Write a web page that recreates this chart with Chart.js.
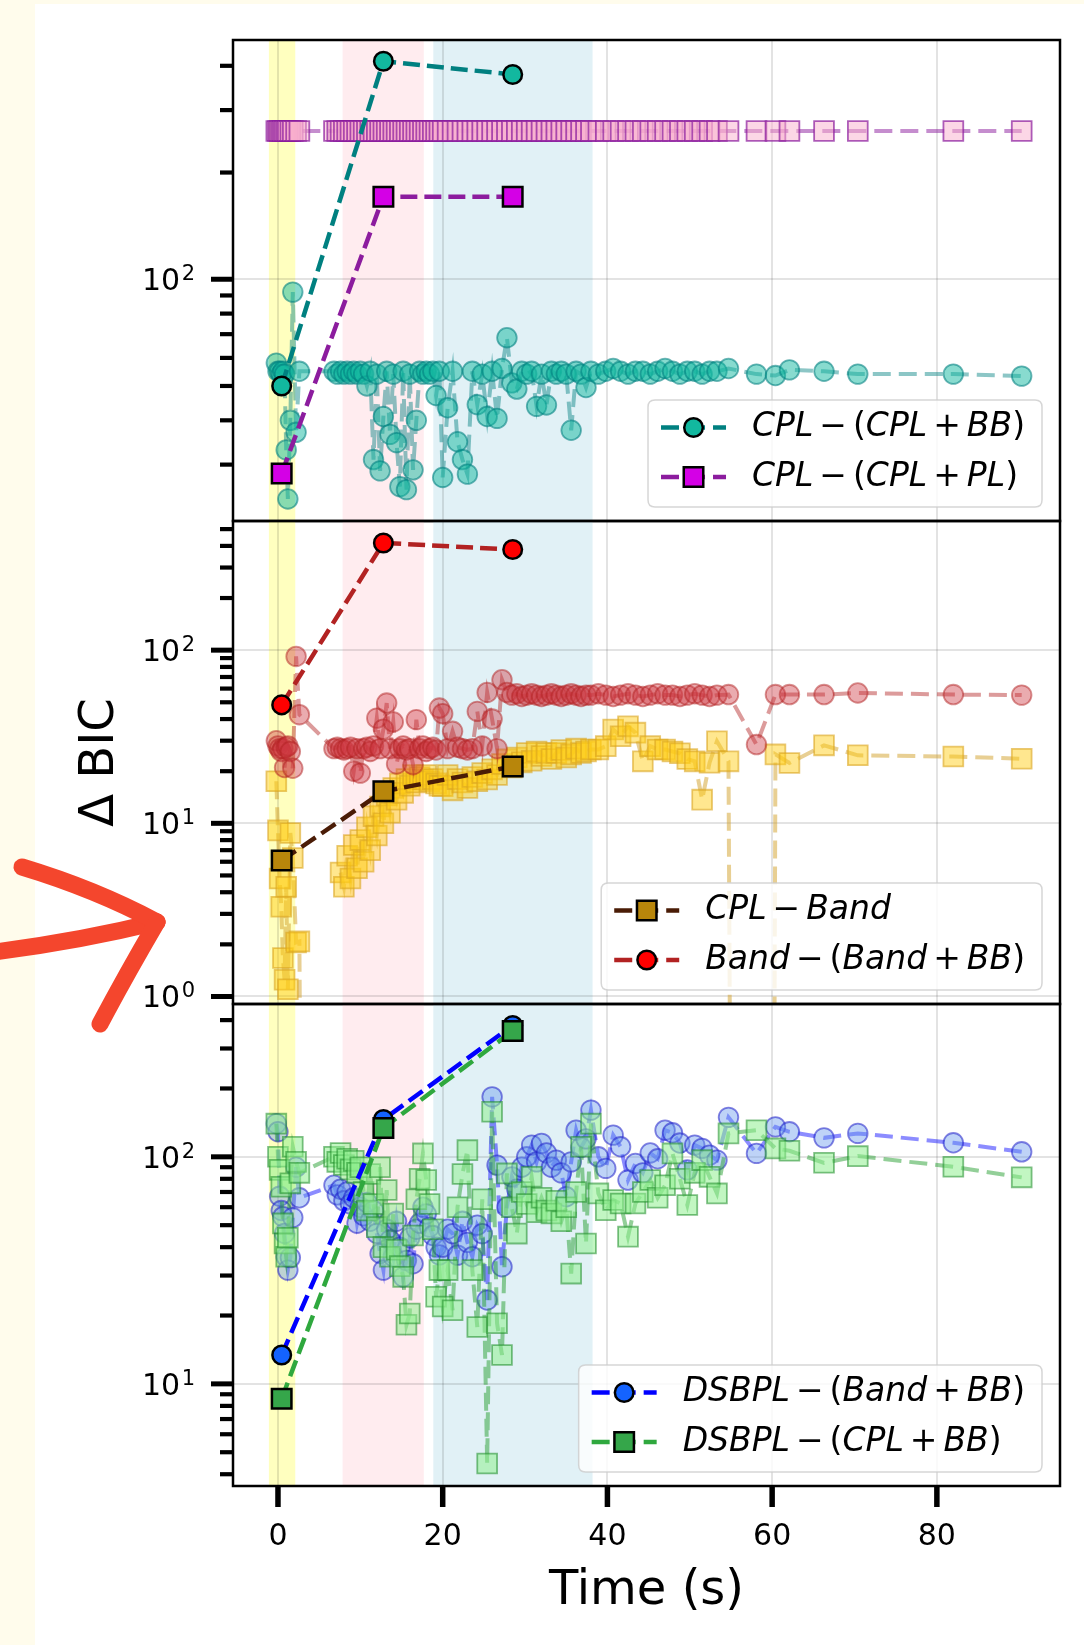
<!DOCTYPE html>
<html lang="en">
<head>
<meta charset="utf-8">
<title>Δ BIC vs time</title>
<script src="https://cdn.jsdelivr.net/npm/chart.js@4.4.1/dist/chart.umd.min.js"></script>
<style>
  html, body { margin: 0; padding: 0; background: #ffffff; }
  #page { position: relative; width: 1084px; height: 1645px; overflow: hidden; background: #ffffff; }
  .edge { position: absolute; background: #fffcec; }
  canvas, svg { position: absolute; left: 0; top: 0; }
</style>
</head>
<body>
<div id="page">
  <div class="edge" style="left:0;top:0;width:35px;height:1645px"></div>
  <div class="edge" style="left:0;top:0;width:1084px;height:4px"></div>
  <canvas id="panelTop" width="1084" height="1645"></canvas>
  <canvas id="panelMid" width="1084" height="1645"></canvas>
  <canvas id="panelBot" width="1084" height="1645"></canvas>
  <svg width="1084" height="1645" viewBox="0 0 1084 1645">
    <g fill="none" stroke="#f4462d" stroke-width="17" stroke-linecap="round" stroke-linejoin="round">
      <path d="M -6 952 Q 80 941 157 922"/>
      <path d="M 22 867 Q 95 889 157 922"/>
      <path d="M 157 922 Q 126 975 100 1024"/>
    </g>
  </svg>
</div>
<script>
const FONT = '"DejaVu Sans", "Liberation Sans", sans-serif';
Chart.defaults.font.family = FONT;
Chart.defaults.color = '#000';

// ---- time-resolved bins (s) ----
const timeBins = [
  -0.2, 0.0, 0.2, 0.4, 0.6, 0.8, 1.0, 1.2, 1.5, 1.8, 2.2, 2.6,
  6.8, 7.2, 7.6, 8.0, 8.4, 8.8, 9.2, 9.6, 10.0, 10.4, 10.8, 11.2, 11.6, 12.0, 12.4, 12.8, 13.2, 13.6, 14.0, 14.4, 14.8, 15.2, 15.6, 16.0, 16.4, 16.8, 17.2, 17.6, 18.0, 18.4, 18.8, 19.2, 19.6,
  20.0, 20.6, 21.2, 21.8, 22.4, 23.0, 23.6, 24.2, 24.8, 25.4, 26.0, 26.6, 27.2, 27.8, 28.4, 29.0, 29.6, 30.2, 30.8, 31.4, 32.0, 32.6, 33.2, 33.8, 34.4, 35.0, 35.6, 36.2, 36.8, 37.4,
  38.0, 38.9, 39.8, 40.7, 41.6, 42.5, 43.4, 44.3, 45.2, 46.1, 47.0, 47.9, 48.8, 49.7, 50.6, 51.5, 52.4, 53.3, 54.7,
  58.1, 60.4, 62.1, 66.3, 70.4, 82.0, 90.3
];

// Δ BIC per bin: CPL − (CPL + BB)
const binsCplVsCplBB = [
  58, 55, 55, 54, 55, 54, 33, 24, 40, 92, 37, 55,
  55, 54, 55, 54, 55, 54, 55, 54, 55, 54, 50, 55, 31, 54, 28.8, 41, 55, 36.5, 54, 34.6, 26, 55, 25.5, 54, 29, 40, 55, 54, 55, 54, 55, 47, 55,
  27.6, 43.4, 55, 34.8, 31, 28.2, 55, 44.3, 54, 41, 55, 40.5, 56, 68.4, 51, 49, 55, 54, 55, 43.8, 54, 44.2, 55, 54, 55, 54, 37.5, 55, 54, 49.5,
  55, 54, 55, 56, 55, 54, 55, 55, 54, 55, 56, 55, 54, 55, 55, 54, 55, 55, 56,
  54, 53.5, 55.5, 55, 54, 54, 53.3
];
// Δ BIC per bin: CPL − (CPL + PL)
const binsCplVsCplPL = [
  262, 262, 262, 262, 262, 262, 262, 262, 262, 262, 262, 262,
  262, 262, 262, 262, 262, 262, 262, 262, 262, 262, 262, 262, 262, 262, 262, 262, 262, 262, 262, 262, 262, 262, 262, 262, 262, 262, 262, 262, 262, 262, 262, 262, 262,
  262, 262, 262, 262, 262, 262, 262, 262, 262, 262, 262, 262, 262, 262, 262, 262, 262, 262, 262, 262, 262, 262, 262, 262, 262, 262, 262, 262, 262, 262,
  262, 262, 262, 262, 262, 262, 262, 262, 262, 262, 262, 262, 262, 262, 262, 262, 262, 262, 262,
  262, 262, 262, 262, 262, 262, 262
];
// Δ BIC per bin: Band − (Band + BB)
const binsBandVsBandBB = [
  30, 28, 27, 26, 27, 21, 27.5, 28, 26, 20.8, 92, 42.4,
  27, 27.5, 27, 26.5, 27, 27.5, 20, 27, 19.5, 27, 27.5, 26, 28, 40.5, 27, 35, 49.5, 27, 38.5, 22, 27, 28, 26.5, 27, 21.8, 39.7, 27, 28, 26, 27, 27.5, 26.5, 46.3,
  43, 27, 34, 27.5, 27, 26.5, 27, 44.3, 28, 57, 40, 27, 67.5, 57, 55, 56, 54, 55, 56, 55, 54, 55, 56, 55, 54, 55, 56, 55, 54, 55,
  55, 56, 55, 54, 55, 56, 55, 54, 55, 56, 55, 55, 54, 55, 56, 55, 54, 55, 55.4,
  28.5, 55.4, 55.4, 55.4, 56.6, 55.4, 55
];
// Δ BIC per bin: CPL − Band (negative values fall off the log axis; null = no fit)
const binsCplVsBand = [
  17.5, 9.1, 4.8, 3.3, 1.67, 1.25, 4.3, 1.1, 8.8, 6.3, 2.05, 2.08,
  -5, null, 5.2, 4.3, 6.5, 4.8, 7.5, 5.5, 8.0, 6.0, 9.5, 7.0, 11.0, 8.5, 12.5, 10.0, 14.5, 11.5, 16, 13.7, 17, 15, 18, 16.5, 19, 17.2, 18.5, 17.9, 19, 17.5, 18, 17, 16.5,
  16.4, 19, 15.5, 18, 17.2, 16, 18.5, 17.5, 19.5, 17.9, 20.5, 19, 22, 23.4, 21, 24, 22.5, 25.5, 23, 26, 24.5, 25.5, 23.5, 25.5, 26.5, 24, 25, 27, 25.5, 26,
  26.7, 26.7, 27.9, 34.8, 31.8, 36.3, 33.4, 22.8, 27.9, 26.7, 26.7, 26.0, 25.4, 23.5, 22.8, 13.7, 22.4, 29.8, 22.8,
  -5, 25.0, 22.3, 28.2, 24.7, 24.3, 23.6
];
// Δ BIC per bin: DSBPL − (Band + BB)
const binsDsbplVsBandBB = [
  140, 129, 67, 58, 54.5, 46, 36.3, 31.7, 36, 54, 90, 66,
  75, 68, 72, 64, 70, 62, 66, 51, 60, 55, 63, 52, 58, 46, 37.5, 31.7, 48, 43, 36.3, 52, 40, 29.6, 35, 44, 33.8, 48, 51, 60, 56, 49, 45, 40, 37,
  40, 48, 45.9, 36.9, 52, 42, 36.3, 50, 45.9, 23.4, 183.7, 91.9, 32.8, 60, 81.6, 72, 90, 100, 112.6, 95, 114.6, 104, 90, 96.7, 85, 66.7, 95, 131, 110, 120,
  160.6, 100, 88.9, 124.6, 110.7, 79, 93.5, 85, 104, 98, 131, 127.6, 115, 87.6, 112.6, 108.9, 101.7, 96.7, 149.2,
  103.5, 135.5, 128.9, 121.2, 126.8, 115.3, 105.2
];
// Δ BIC per bin: DSBPL − (CPL + BB)
const binsDsbplVsCplBB = [
  140, 100, 87.6, 73.8, 50.9, 41.5, 36.3, 44, 76.4, 110.7, 95, 85,
  100, 95, 104, 92, 98, 88, 96, 85, 90, 70, 58, 84, 62, 49, 90, 40, 71.4, 36.3, 56.3, 39, 33, 29.6, 18.2, 20.4, 45, 65, 80, 103.5, 79, 62, 48, 24.2, 31.7,
  21.9, 31.7, 21.1, 60, 84, 107, 31.7, 17.8, 65, 4.46, 157.9, 18.5, 13.4, 84.5, 60, 45.9, 70, 62, 81.6, 57, 66, 58, 56.3, 64, 52, 60, 30.6, 70, 110.7, 41.5,
  140, 69, 58.2, 64.5, 62.3, 44.5, 62.3, 70, 79, 66, 75, 103.5, 80, 61.3, 85, 96.7, 81.6, 69, 126.8,
  131, 108.9, 106.3, 94.1, 100.7, 90.4, 81.2
];

// ---- pulse-integrated intervals ----
const intervalTimes = [0.45, 12.8, 28.5];
const intCplVsCplBB = [50, 412, 378];
const intCplVsCplPL = [28.3, 171, 171];
const intCplVsBand = [6.1, 15.3, 21.3];
const intBandVsBandBB = [48.3, 416, 381];
const intDsbplVsBandBB = [13.4, 146, 379];
const intDsbplVsCplBB = [8.6, 134, 358];

// shaded emission episodes (s)
const episodeStart = [-1.1, 7.85, 18.86];
const episodeEnd = [2.1, 17.7, 38.2];

// axis ticks
const xTickValues = [0, 20, 40, 60, 80];
const yTicksTop = [30, 40, 50, 60, 70, 80, 90, 100, 200, 300, 400];
const yTicksMid = [1, 2, 3, 4, 5, 6, 7, 8, 9, 10, 20, 30, 40, 50, 60, 70, 80, 90, 100, 200, 300, 400, 500];
const yTicksBot = [4, 5, 6, 7, 8, 9, 10, 20, 30, 40, 50, 60, 70, 80, 90, 100, 200, 300, 400];
// decade tick labels as [base, exponent]
const decadeLabels = { 1: ['10', '0'], 10: ['10', '1'], 100: ['10', '2'] };

// ---- layout & styling ----
const PAGE_W = 1084, PAGE_H = 1645;
const AREA_LEFT = 233, AREA_RIGHT = 1060;
const X_MIN = -5.46, X_MAX = 94.95;
const GRID = 'rgba(0,0,0,0.11)';
const episodeColors = ['rgba(255,255,0,0.25)', 'rgba(255,192,203,0.30)', 'rgba(173,216,230,0.36)'];
const CLIP_FLOOR = 1e-30; // stands in for non-positive Δ BIC on the log axis

const styles = {
  teal:    { line: '#008080', face: '#12b89f', fLine: 'rgba(0,128,128,0.45)', fFace: 'rgba(18,184,159,0.50)', fEdge: 'rgba(0,128,128,0.58)', shape: 'circle' },
  magenta: { line: '#8c1c9e', face: '#d400e6', fLine: 'rgba(140,28,158,0.50)', fFace: 'rgba(250,175,205,0.50)', fEdge: 'rgba(140,28,158,0.70)', shape: 'rect' },
  red:     { line: '#b22222', face: '#ff0000', fLine: 'rgba(178,34,34,0.45)', fFace: 'rgba(205,55,65,0.42)', fEdge: 'rgba(178,34,34,0.50)', shape: 'circle' },
  gold:    { line: '#4a1c06', face: '#b8860b', fLine: 'rgba(210,160,40,0.50)', fFace: 'rgba(255,205,20,0.48)', fEdge: 'rgba(218,165,32,0.60)', shape: 'rect' },
  blue:    { line: '#0000ff', face: '#1463ff', fLine: 'rgba(0,0,255,0.45)', fFace: 'rgba(100,149,237,0.42)', fEdge: 'rgba(30,30,200,0.55)', shape: 'circle' },
  green:   { line: '#2fa83e', face: '#35a64a', fLine: 'rgba(40,160,50,0.50)', fFace: 'rgba(144,238,144,0.55)', fEdge: 'rgba(30,140,40,0.55)', shape: 'rect' }
};
const radius = { circle: 9.3, rect: 13.8 };
const fadedRadius = { circle: 9.8, rect: 14 };

function toPoints(times, vals) {
  return times.map((t, i) => ({ x: t, y: vals[i] === null ? null : (vals[i] > 0 ? vals[i] : CLIP_FLOOR) }));
}

function binSeries(label, vals, st, order) {
  return {
    label, data: toPoints(timeBins, vals), order,
    borderColor: st.fLine, borderWidth: 4, borderDash: [18, 8], tension: 0, fill: false, spanGaps: false,
    pointStyle: st.shape, pointRadius: fadedRadius[st.shape], pointHoverRadius: fadedRadius[st.shape],
    pointBackgroundColor: st.fFace, pointBorderColor: st.fEdge, pointBorderWidth: 1.8
  };
}
function intervalSeries(label, vals, st, order) {
  return {
    label, data: toPoints(intervalTimes, vals), order,
    borderColor: st.line, borderWidth: 4.5, borderDash: [17, 7], tension: 0, fill: false,
    pointStyle: st.shape, pointRadius: radius[st.shape], pointHoverRadius: radius[st.shape],
    pointBackgroundColor: st.face, pointBorderColor: '#000', pointBorderWidth: 2.5
  };
}

// mathtext-like label: letters italic, brackets/operators upright, spaced binary operators
const LEGEND_PX = 33;
const OP_GAP = 6;
function mathRuns(label) {
  const out = [];
  for (const m of label.match(/[A-Za-z]+|[^A-Za-z]/g)) {
    if (m === ' ') continue;
    if (/[A-Za-z]/.test(m)) out.push({ s: m, it: true, gap: 0 });
    else out.push({ s: m, it: false, gap: (m === '−' || m === '+') ? OP_GAP : 0 });
  }
  return out;
}
function runFont(it) { return (it ? 'italic ' : '') + LEGEND_PX + 'px ' + FONT; }
function measureMath(ctx, label) {
  return mathRuns(label).reduce((w, r) => { ctx.font = runFont(r.it); return w + ctx.measureText(r.s).width + 2 * r.gap; }, 0);
}
function drawMath(ctx, label, x, y) {
  ctx.textBaseline = 'middle'; ctx.textAlign = 'left'; ctx.fillStyle = '#000';
  mathRuns(label).forEach(r => {
    ctx.font = runFont(r.it);
    x += r.gap;
    ctx.fillText(r.s, x, y);
    x += ctx.measureText(r.s).width + r.gap;
  });
}
function drawMarker(ctx, shape, x, y, face) {
  ctx.setLineDash([]);
  ctx.fillStyle = face; ctx.strokeStyle = '#000'; ctx.lineWidth = 2.5;
  ctx.beginPath();
  if (shape === 'circle') ctx.arc(x, y, radius.circle, 0, Math.PI * 2);
  else { const h = radius.rect * Math.SQRT1_2; ctx.rect(x - h, y - h, 2 * h, 2 * h); }
  ctx.fill(); ctx.stroke();
}
function roundRectPath(ctx, x, y, w, h, r) {
  ctx.beginPath();
  ctx.moveTo(x + r, y); ctx.lineTo(x + w - r, y); ctx.quadraticCurveTo(x + w, y, x + w, y + r);
  ctx.lineTo(x + w, y + h - r); ctx.quadraticCurveTo(x + w, y + h, x + w - r, y + h);
  ctx.lineTo(x + r, y + h); ctx.quadraticCurveTo(x, y + h, x, y + h - r);
  ctx.lineTo(x, y + r); ctx.quadraticCurveTo(x, y, x + r, y); ctx.closePath();
}

function panelDecor(legendEntries, showX) {
  return {
    id: 'panelDecor',
    beforeDraw(chart) {
      const { ctx, chartArea: a, scales } = chart;
      ctx.save();
      episodeStart.forEach((s, i) => {
        const x0 = scales.x.getPixelForValue(s), x1 = scales.x.getPixelForValue(episodeEnd[i]);
        ctx.fillStyle = episodeColors[i];
        ctx.fillRect(x0, a.top, x1 - x0, a.bottom - a.top);
      });
      ctx.restore();
    },
    afterDraw(chart) {
      const { ctx, chartArea: a, scales } = chart;
      ctx.save();
      ctx.setLineDash([]);
      ctx.strokeStyle = '#000';
      // y tick marks (long at decades) and power-of-ten labels
      scales.y.ticks.forEach(t => {
        const py = scales.y.getPixelForValue(t.value);
        const lab = decadeLabels[t.value];
        ctx.lineWidth = lab ? 5 : 4.2;
        ctx.beginPath(); ctx.moveTo(a.left - (lab ? 22 : 13), py); ctx.lineTo(a.left, py); ctx.stroke();
        if (lab) {
          ctx.fillStyle = '#000'; ctx.textAlign = 'right'; ctx.textBaseline = 'alphabetic';
          ctx.font = '21px ' + FONT;
          const ew = ctx.measureText(lab[1]).width;
          ctx.fillText(lab[1], a.left - 38, py + 1);
          ctx.font = '30px ' + FONT;
          ctx.fillText(lab[0], a.left - 38 - ew - 1.5, py + 11);
        }
      });
      if (showX) {
        scales.x.ticks.forEach(t => {
          const px = scales.x.getPixelForValue(t.value);
          ctx.lineWidth = 5.5;
          ctx.beginPath(); ctx.moveTo(px, a.bottom); ctx.lineTo(px, a.bottom + 21); ctx.stroke();
        });
      }
      ctx.lineWidth = 2.5;
      ctx.strokeRect(a.left, a.top, a.right - a.left, a.bottom - a.top);

      // legend, lower right
      const textW = Math.max(...legendEntries.map(e => measureMath(ctx, e.label)));
      const w = 13 + 65 + 26 + textW + 17, h = 107;
      const bx = a.right - 18 - w, by = a.bottom - 14 - h;
      roundRectPath(ctx, bx, by, w, h, 7);
      ctx.fillStyle = 'rgba(255,255,255,0.8)'; ctx.fill();
      ctx.strokeStyle = 'rgba(204,204,204,0.8)'; ctx.lineWidth = 1.5; ctx.stroke();
      legendEntries.forEach((e, i) => {
        const cy = by + 27.5 + i * 49.5;
        ctx.strokeStyle = e.style.line; ctx.lineWidth = 4.5; ctx.setLineDash([18, 8]);
        ctx.beginPath(); ctx.moveTo(bx + 13, cy); ctx.lineTo(bx + 78, cy); ctx.stroke();
        drawMarker(ctx, e.style.shape, bx + 45.5, cy, e.style.face);
        drawMath(ctx, e.label, bx + 104, cy);
      });
      ctx.restore();
    }
  };
}

function makePanel(cfg) {
  const xAxisH = cfg.showX ? 140 : 0;
  return new Chart(document.getElementById(cfg.canvas), {
    type: 'line',
    data: { datasets: cfg.datasets },
    options: {
      responsive: false, animation: false, events: [],
      layout: { padding: { left: 40, right: PAGE_W - AREA_RIGHT, top: cfg.top, bottom: PAGE_H - cfg.bottom - xAxisH } },
      plugins: { legend: { display: false }, tooltip: { enabled: false } },
      scales: {
        x: {
          type: 'linear', position: 'bottom', min: X_MIN, max: X_MAX,
          afterBuildTicks: s => { s.ticks = xTickValues.map(v => ({ value: v })); },
          afterFit: s => { s.height = xAxisH; },
          grid: { color: GRID, lineWidth: 2, drawTicks: false },
          border: { display: false },
          ticks: { display: cfg.showX, padding: 33, autoSkip: false, maxRotation: 0, font: { size: 30 }, color: '#000', callback: v => String(v) },
          title: { display: cfg.showX, text: 'Time (s)', font: { size: 48 }, color: '#000', padding: { top: 0, bottom: 6 } }
        },
        y: {
          type: 'logarithmic', position: 'left', min: cfg.yMin, max: cfg.yMax,
          afterBuildTicks: s => { s.ticks = cfg.yTicks.map(v => ({ value: v })); },
          afterFit: s => { s.width = AREA_LEFT - 40; },
          grid: { color: c => (c.tick && decadeLabels[c.tick.value]) ? GRID : 'rgba(0,0,0,0)', lineWidth: 2, drawTicks: false },
          border: { display: false },
          ticks: { display: false },
          title: { display: !!cfg.yTitle, text: cfg.yTitle || '', font: { size: 48 }, color: '#000', padding: { top: 32, bottom: 0 } }
        }
      }
    },
    plugins: [panelDecor(cfg.legend, cfg.showX)]
  });
}

makePanel({
  canvas: 'panelTop', top: 40, bottom: 521, yMin: 20.8, yMax: 473, yTicks: yTicksTop, showX: false,
  datasets: [
    intervalSeries('CPL − (CPL + BB)', intCplVsCplBB, styles.teal, 0),
    intervalSeries('CPL − (CPL + PL)', intCplVsCplPL, styles.magenta, 1),
    binSeries('CPL − (CPL + BB) per bin', binsCplVsCplBB, styles.teal, 2),
    binSeries('CPL − (CPL + PL) per bin', binsCplVsCplPL, styles.magenta, 3)
  ],
  legend: [
    { label: 'CPL − (CPL + BB)', style: styles.teal },
    { label: 'CPL − (CPL + PL)', style: styles.magenta }
  ]
});

makePanel({
  canvas: 'panelMid', top: 521, bottom: 1004, yMin: 0.905, yMax: 557, yTicks: yTicksMid, showX: false, yTitle: 'Δ BIC',
  datasets: [
    intervalSeries('CPL − Band', intCplVsBand, styles.gold, 0),
    intervalSeries('Band − (Band + BB)', intBandVsBandBB, styles.red, 1),
    binSeries('Band − (Band + BB) per bin', binsBandVsBandBB, styles.red, 2),
    binSeries('CPL − Band per bin', binsCplVsBand, styles.gold, 3)
  ],
  legend: [
    { label: 'CPL − Band', style: styles.gold },
    { label: 'Band − (Band + BB)', style: styles.red }
  ]
});

makePanel({
  canvas: 'panelBot', top: 1004, bottom: 1486, yMin: 3.55, yMax: 471, yTicks: yTicksBot, showX: true,
  datasets: [
    intervalSeries('DSBPL − (CPL + BB)', intDsbplVsCplBB, styles.green, 0),
    intervalSeries('DSBPL − (Band + BB)', intDsbplVsBandBB, styles.blue, 1),
    binSeries('DSBPL − (CPL + BB) per bin', binsDsbplVsCplBB, styles.green, 2),
    binSeries('DSBPL − (Band + BB) per bin', binsDsbplVsBandBB, styles.blue, 3)
  ],
  legend: [
    { label: 'DSBPL − (Band + BB)', style: styles.blue },
    { label: 'DSBPL − (CPL + BB)', style: styles.green }
  ]
});
</script>
</body>
</html>
